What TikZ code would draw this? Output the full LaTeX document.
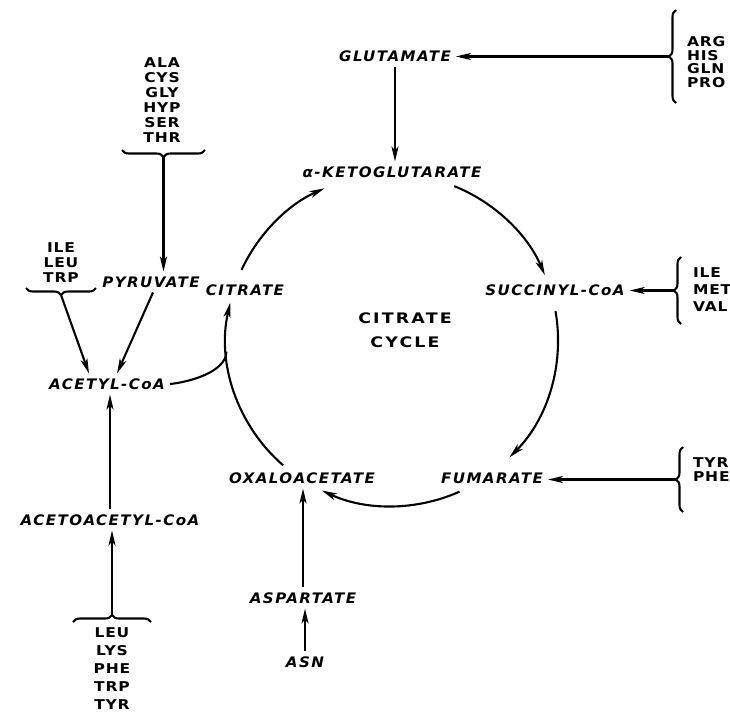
\documentclass[tikz,border=0pt]{standalone}
\usepackage{fontspec}
\newfontfamily\labfont[FakeStretch=1.04, LetterSpace=10]{DejaVu Sans}
\newfontfamily\aafont[FakeStretch=1.15, LetterSpace=6]{DejaVu Sans}
\newfontfamily\cycfont[FakeStretch=1.2, LetterSpace=15]{DejaVu Sans}
\usetikzlibrary{arrows.meta, decorations.pathreplacing}

\begin{document}
\begin{tikzpicture}[x=1pt, y=-1pt, >={Stealth[length=15pt, width=7pt, inset=4pt]}, line width=2.1pt,
      met/.style={font=\labfont\bfseries\itshape\fontsize{14.5}{15}\selectfont, inner sep=4pt},
      aa/.style={font=\aafont\bfseries\fontsize{13.5}{#1}\selectfont, align=center, inner sep=0pt},
      aa/.default=15,
      arr/.style={->},
      brc/.style={decorate, decoration={brace, amplitude=7pt}}]

    \useasboundingbox (0,0) rectangle (730,718);

    % ---- Cycle layout ----
    \coordinate (cyc) at (392,340);
    \def\R{166}

    % ---- Cycle members ----
    \node[met] (akg) at (392,172) {α-KETOGLUTARATE};
    \node[met] (cit) at (245,290) {CITRATE};
    \node[met] (suc) at (555,290) {SUCCINYL-CoA};
    \node[met] (fum) at (492,478) {FUMARATE};
    \node[met] (oaa) at (302,478) {OXALOACETATE};
    \node[font=\cycfont\bfseries\fontsize{14.5}{24}\selectfont, align=center] (cyclbl) at (405,330) {CITRATE\\CYCLE};

    % ---- Cycle arcs (clockwise) ----
    \draw[arr] (cyc) ++(205:\R) arc[start angle=205, end angle=246, radius=\R];
    \draw[arr] (cyc) ++(292:\R) arc[start angle=292, end angle=337, radius=\R];
    \draw[arr] (cyc) ++(350:\R) arc[start angle=350, end angle=405, radius=\R];
    \draw[arr] (cyc) ++(66:\R)  arc[start angle=66,  end angle=115, radius=\R];
    \draw[arr] (cyc) ++(131:\R) arc[start angle=131, end angle=193, radius=\R];
    \path (cyc) ++(176:\R) coordinate (join);

    % ---- Glutamate branch ----
    \node[met] (glu) at (395,56) {GLUTAMATE};
    \draw[arr] (glu.south) -- (glu.south |- akg.north);
    \node[aa=13.7, anchor=west, align=left] (arggrp) at (686,62) {ARG\\HIS\\GLN\\PRO};
    \draw[brc] (676,103) -- (676,10);
    \coordinate (argtip) at (669,56.5);
    \draw[arr] (argtip) -- (argtip -| glu.east);

    % ---- Succinyl-CoA / fumarate inputs ----
    \node[aa=17, anchor=west, align=left] (ilegrpR) at (692,290) {ILE\\MET\\VAL};
    \draw[brc] (681,324) -- (681,257);
    \coordinate (iletipR) at (674,290.5);
    \draw[arr] (iletipR) -- (iletipR -| suc.east);

    \node[aa=14, anchor=west, align=left] (tyrgrp) at (692,470) {TYR\\PHE};
    \draw[brc] (683,512) -- (683,447);
    \coordinate (tyrtip) at (676,479.5);
    \draw[arr] (tyrtip) -- (tyrtip -| fum.east);

    % ---- Aspartate branch ----
    \node[met] (asp) at (303,598) {ASPARTATE};
    \node[met] (asn) at (305,662) {ASN};
    \draw[arr] (asn.north) -- (asn.north |- asp.south);
    \draw[arr] (asp.north) -- (asp.north |- oaa.south);

    % ---- Acetyl-CoA side ----
    \node[met] (acoa) at (107,384) {ACETYL-CoA};
    \node[met] (pyr) at (151,282) {PYRUVATE};
    \node[met] (aacoa) at (110,520) {ACETOACETYL-CoA};
    \draw (acoa.east) .. controls +(20,-2) and +(0,20) .. (join);

    \node[aa] (alagrp) at (162,100) {ALA\\CYS\\GLY\\HYP\\SER\\THR};
    \draw[brc] (205,150) -- (122,150);
    \coordinate (alatip) at (163.5,157);
    \draw[arr] (alatip) -- (alatip |- pyr.north);

    \node[aa] (ilegrpL) at (61,263) {ILE\\LEU\\TRP};
    \draw[brc] (96,288) -- (26,288);
    \coordinate (iletipL) at (61,295);
    \draw[arr] (iletipL) -- ([xshift=-18pt]acoa.north);
    \draw[arr] ([xshift=2pt]pyr.south) -- ([xshift=10pt]acoa.north);

    \draw[arr] (aacoa.north) -- (aacoa.north |- acoa.south);
    \node[aa=18] (leugrp) at (112,669) {LEU\\LYS\\PHE\\TRP\\TYR};
    \draw[brc] (73,622) -- (151,622);
    \coordinate (leutip) at (112,615);
    \draw[arr] (leutip) -- (leutip |- aacoa.south);

\end{tikzpicture}
\end{document}
